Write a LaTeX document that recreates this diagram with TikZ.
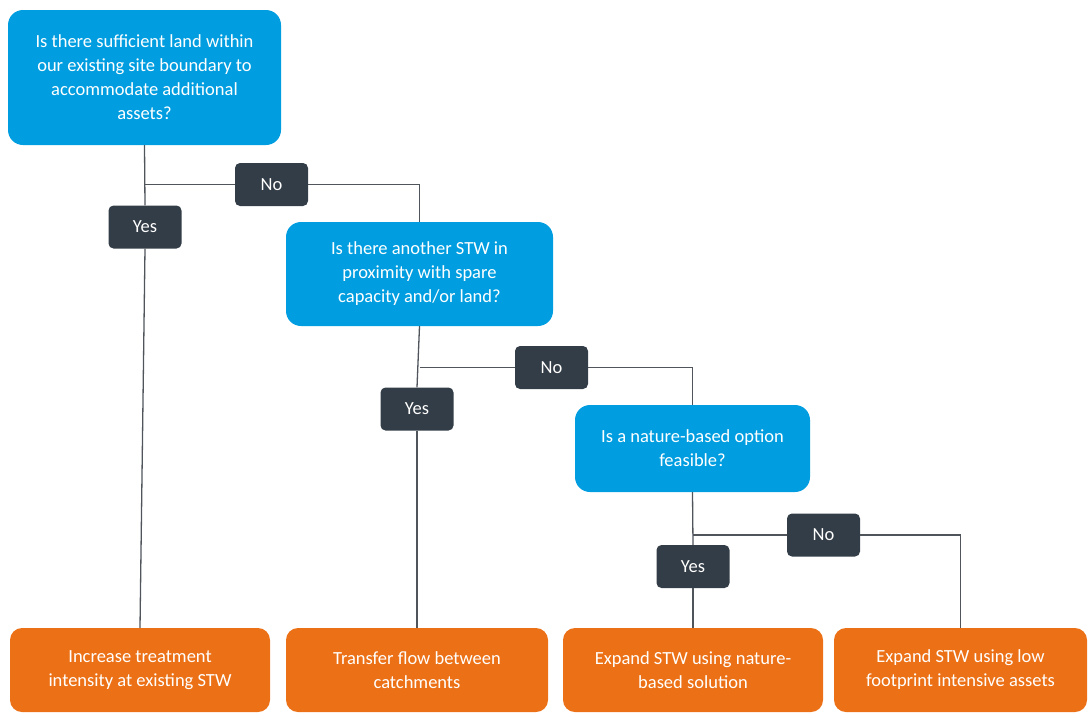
\documentclass[tikz,border=0pt]{standalone}
\usepackage{fontspec}
\setmainfont{Carlito}
\usepackage{tikz}
\usetikzlibrary{positioning,calc}
\usepackage{xcolor}
\definecolor{qblue}{RGB}{0,158,224}
\definecolor{aorange}{RGB}{236,113,22}
\definecolor{tagdark}{RGB}{51,61,71}
\definecolor{wire}{RGB}{80,85,92}
\tikzset{
  ques/.style={fill=qblue,rounded corners=15pt,text=white,align=center,inner sep=4pt,
    font=\fontsize{18.5}{24}\selectfont},
  act/.style={fill=aorange,rounded corners=12pt,text=white,align=center,inner sep=4pt,
    minimum height=84pt,font=\fontsize{18.5}{24}\selectfont},
  tag/.style={fill=tagdark,rounded corners=5pt,text=white,minimum width=73pt,
    minimum height=43pt,inner sep=0pt,font=\fontsize{18.5}{24}\selectfont},
  link/.style={draw=wire,line width=1.3pt},
}

\begin{document}
\begin{tikzpicture}[x=1pt,y=-1pt]
  \useasboundingbox (0,0) rectangle (1089,713);
  % questions
  \node[ques,minimum width=273pt,minimum height=135pt] (q1) at (144.5,77.5)
    {Is there sufficient land within\\our existing site boundary to\\accommodate additional\\assets?};
  \node[ques,minimum width=267pt,minimum height=104pt] (q2) at (419.5,274)
    {Is there another STW in\\proximity with spare\\capacity and/or land?};
  \node[ques,minimum width=235pt,minimum height=87pt] (q3) at (692.5,448.5)
    {Is a nature-based option\\feasible?};
  % answers
  \node[act,minimum width=260pt] (a1) at (140,670) {Increase treatment\\intensity at existing STW};
  \node[act,minimum width=262pt] (a2) at (417,670) {Transfer flow between\\catchments};
  \node[act,minimum width=260pt] (a3) at (693,670) {Expand STW using nature-\\based solution};
  \node[act,minimum width=253pt] (a4) at (960.5,670) {Expand STW using low\\footprint intensive assets};
  % yes / no tags
  \node[tag] (y1) at (145,227) {Yes};
  \node[tag] (n1) at (271.5,184.5) {No};
  \node[tag] (y2) at (417,409) {Yes};
  \node[tag] (n2) at (551.5,367.5) {No};
  \node[tag] (y3) at (693,566.5) {Yes};
  \node[tag] (n3) at (823.5,535) {No};
  % connectors
  \draw[link] (q1.south) -- (y1.north);
  \draw[link] (q1.south |- n1.west) -- (n1.west);
  \draw[link] (n1.east) -| (q2.north);
  \draw[link] (y1.south) -- (a1.north);
  \draw[link] (q2.south) -- (y2.north);
  \draw[link] (q2.south |- n2.west) -- (n2.west);
  \draw[link] (n2.east) -| (q3.north);
  \draw[link] (y2.south) -- (a2.north);
  \draw[link] (q3.south) -- (y3.north);
  \draw[link] (q3.south |- n3.west) -- (n3.west);
  \draw[link] (n3.east) -| (a4.north);
  \draw[link] (y3.south) -- (a3.north);
\end{tikzpicture}
\end{document}
